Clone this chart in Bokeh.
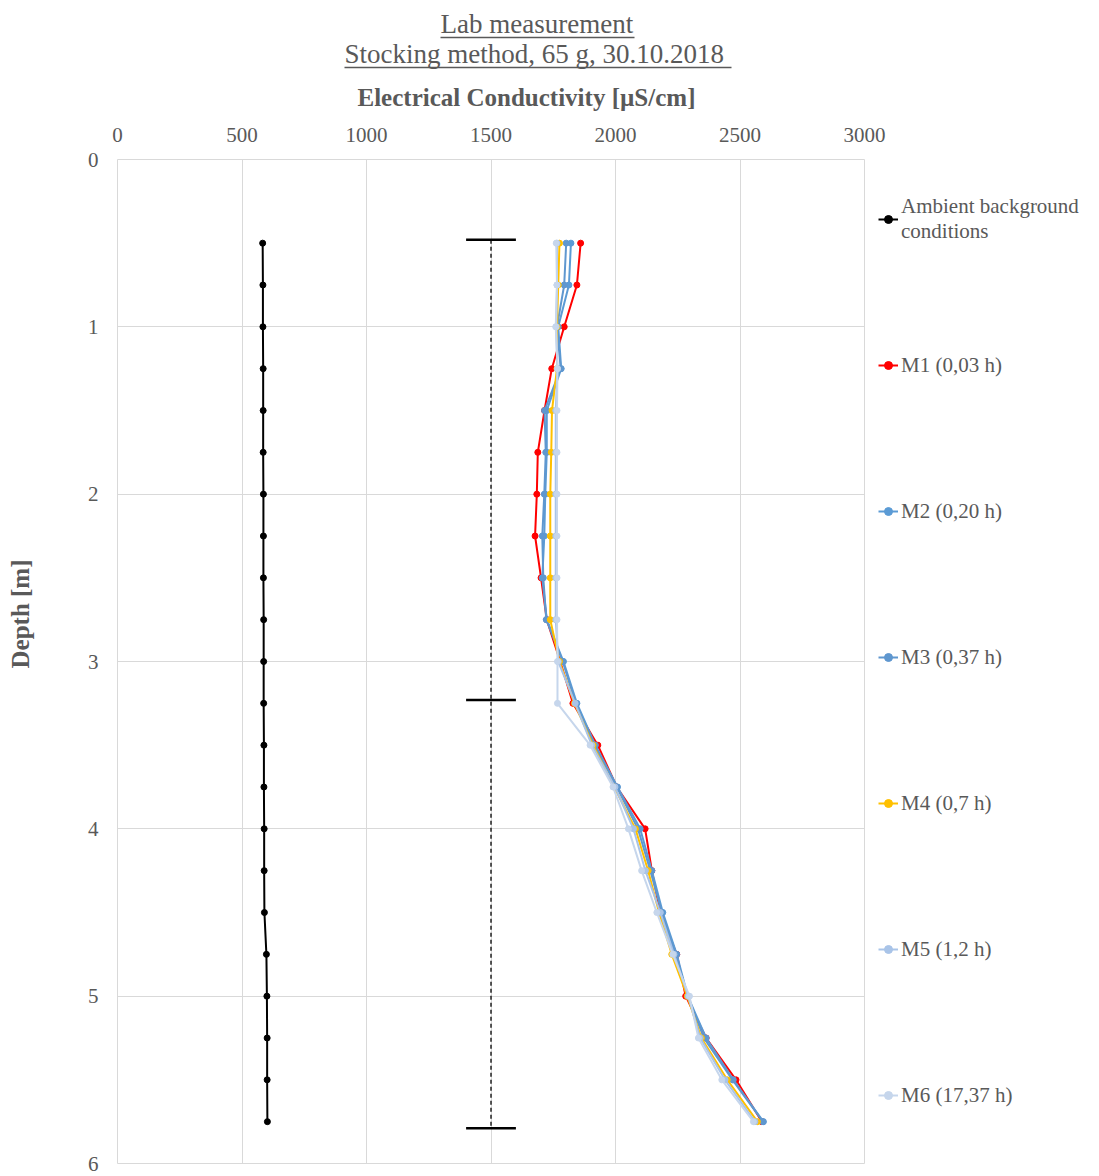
from bokeh.plotting import figure
from bokeh.models import Range1d, Legend, LegendItem, FixedTicker, LinearAxis, Title
from bokeh.embed import file_html
from bokeh.resources import INLINE

# ---------------- data ----------------
depth = [0.5, 0.75, 1.0, 1.25, 1.5, 1.75, 2.0, 2.25, 2.5, 2.75, 3.0,
         3.25, 3.5, 3.75, 4.0, 4.25, 4.5, 4.75, 5.0, 5.25, 5.5, 5.75]

ambient = [583, 584, 584, 585, 585, 585, 586, 586, 586, 587, 587,
           587, 588, 588, 589, 589, 590, 598, 600, 601, 601, 602]
m1 = [1860, 1845, 1794, 1744, 1715, 1688, 1684, 1677, 1701, 1724, 1778,
      1829, 1929, 2005, 2119, 2146, 2180, 2246, 2282, 2364, 2484, 2588]
m2 = [1821, 1813, 1770, 1782, 1724, 1724, 1718, 1714, 1706, 1724, 1791,
      1845, 1919, 2008, 2099, 2146, 2190, 2246, 2290, 2364, 2473, 2594]
m3 = [1802, 1794, 1765, 1780, 1715, 1720, 1714, 1706, 1710, 1722, 1788,
      1840, 1915, 2005, 2090, 2140, 2186, 2240, 2290, 2355, 2470, 2592]
m4 = [1775, 1770, 1765, 1765, 1745, 1742, 1738, 1738, 1738, 1738, 1775,
      1835, 1910, 1995, 2080, 2131, 2175, 2226, 2288, 2345, 2449, 2570]
m5 = [1765, 1765, 1762, 1767, 1760, 1760, 1760, 1760, 1760, 1760, 1770,
      1838, 1905, 1998, 2072, 2120, 2180, 2235, 2292, 2340, 2440, 2560]
m6 = [1762, 1765, 1760, 1767, 1765, 1765, 1765, 1765, 1765, 1765, 1767,
      1767, 1898, 1990, 2052, 2105, 2166, 2230, 2297, 2333, 2427, 2554]

series_names = ["M1 (0,03 h)", "M2 (0,20 h)", "M3 (0,37 h)",
                "M4 (0,7 h)", "M5 (1,2 h)", "M6 (17,37 h)"]
series_values = [m1, m2, m3, m4, m5, m6]
series_colors = ["#ff0000", "#5b9bd5", "#5f97cf", "#ffc000", "#a9c4e8", "#c6d6ec"]

ambient_name = "Ambient background\nconditions"

title_line1 = "Lab measurement"
title_line2 = "Stocking method, 65 g, 30.10.2018"
x_title = "Electrical Conductivity  [µS/cm]"
y_title = "Depth [m]"

# vertical range marker (dashed line with caps)
range_ec = [1500, 1500]
range_depth = [0.48, 5.79]
cap_depths = [0.48, 3.23, 5.79]
cap_left = [1400, 1400, 1400]
cap_right = [1600, 1600, 1600]

x_ticks = [0, 500, 1000, 1500, 2000, 2500, 3000]
y_ticks = [0, 1, 2, 3, 4, 5, 6]

TXT = "#595959"
FONT = "Liberation Serif"

# ---------------- figure ----------------
p = figure(output_backend="svg", toolbar_location=None,
           frame_width=747, frame_height=1004,
           min_border_left=117, min_border_right=0,
           min_border_top=159, min_border_bottom=11,
           x_range=Range1d(0, 3000), y_range=Range1d(6, 0),
           x_axis_location="above")

p.outline_line_color = "#d9d9d9"

for ax in (p.xaxis[0], p.yaxis[0]):
    ax.axis_line_color = None
    ax.major_tick_line_color = None
    ax.minor_tick_line_color = None
    ax.major_tick_out = 0
    ax.minor_tick_out = 0
    ax.major_label_text_font = FONT
    ax.major_label_text_font_size = "21px"
    ax.major_label_text_color = TXT

p.xaxis[0].ticker = FixedTicker(ticks=x_ticks)
p.yaxis[0].ticker = FixedTicker(ticks=y_ticks)
p.xaxis[0].major_label_standoff = 18
p.yaxis[0].major_label_standoff = 19


def spacer(side, tick, size):
    # invisible axis that only reserves room in a side panel
    ax = LinearAxis(ticker=FixedTicker(ticks=[tick]), axis_line_color=None,
                    major_tick_line_color="white", minor_tick_line_color=None,
                    major_tick_out=size, minor_tick_out=0,
                    major_tick_in=0, minor_tick_in=0,
                    major_label_overrides={tick: ""}, major_label_standoff=0,
                    major_label_text_font_size="1px")
    p.add_layout(ax, side)


def underline(lo, hi):
    # a bare axis whose line, limited by bounds, underlines the title above it
    ax = LinearAxis(bounds=(lo, hi), ticker=FixedTicker(ticks=[]),
                    axis_line_color=TXT, axis_line_width=1.3,
                    major_tick_line_color=None, minor_tick_line_color=None,
                    major_tick_out=0, minor_tick_out=0,
                    major_tick_in=0, minor_tick_in=0)
    p.add_layout(ax, "above")


def title(text, offset, side="above", size="27px", style="normal", standoff=-2):
    t = Title(text=text, align="left", offset=offset, standoff=standoff,
              text_font=FONT, text_font_size=size, text_font_style=style,
              text_color=TXT)
    p.add_layout(t, side)


# axis titles placed like the original (not centred on the plot area)
title(x_title, 240, size="25px", style="bold", standoff=28)
underline(912, 2466)
title(title_line2, 227)
underline(1297, 2076)
title(title_line1, 323)

spacer("left", 5.9, 51)
title(y_title, 495, side="left", size="25px", style="bold", standoff=0)

p.xgrid.ticker = FixedTicker(ticks=x_ticks)
p.ygrid.ticker = FixedTicker(ticks=y_ticks)
p.xgrid.grid_line_color = "#d9d9d9"
p.ygrid.grid_line_color = "#d9d9d9"

# range marker
p.line(range_ec, range_depth, line_color="black", line_width=1.3, line_dash="4 3")
p.segment(x0=cap_left, y0=cap_depths, x1=cap_right, y1=cap_depths,
          line_color="black", line_width=2.5)

items = []
r_l = p.line(ambient, depth, line_color="black", line_width=2)
r_s = p.scatter(ambient, depth, size=6, fill_color="black", line_color="black")
items.append(LegendItem(label=ambient_name, renderers=[r_l, r_s]))

for name, vals, col in zip(series_names, series_values, series_colors):
    rl = p.line(vals, depth, line_color=col, line_width=2)
    rs = p.scatter(vals, depth, size=6, fill_color=col, line_color=col)
    items.append(LegendItem(label=name, renderers=[rl, rs]))

legend = Legend(items=items, location="top_left", ncols=1,
                glyph_width=20, glyph_height=92, label_height=92,
                spacing=54, padding=0, margin=14,
                label_standoff=3,
                label_text_font=FONT, label_text_font_size="21px",
                label_text_color=TXT,
                border_line_color=None, background_fill_alpha=0)
p.add_layout(legend, "right")

open("out.html", "w").write(file_html(p, INLINE))
